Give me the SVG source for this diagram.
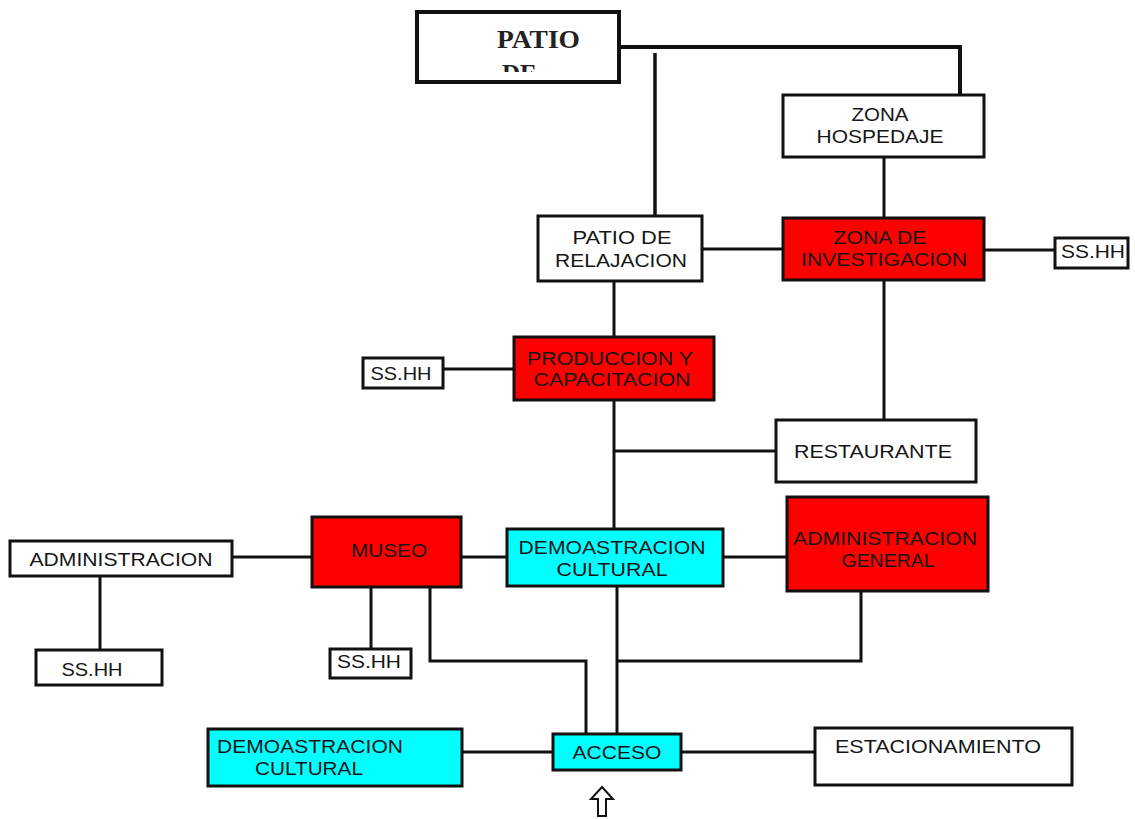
<svg xmlns="http://www.w3.org/2000/svg" width="1135" height="819" viewBox="0 0 1135 819">
<style>
.n{stroke:#111;stroke-width:3;fill:#fff}
.r{fill:#ff0000}
.c{fill:#00ffff}
.t{font-family:"Liberation Sans",Arial,sans-serif;font-size:18.5px;fill:#151515;text-anchor:middle}
.tl{text-anchor:start}
.e{fill:none;stroke:#111;stroke-width:3}
</style>
<defs>
<clipPath id="clipPatio"><rect x="417" y="12" width="202" height="60"/></clipPath>
</defs>
<rect width="1135" height="819" fill="#fff"/>
<g id="connectors">
<polyline class="e" style="stroke-width:4" points="619,47 960,47 960,95"/>
<line class="e" style="stroke-width:3.5" x1="655" y1="53" x2="655" y2="216"/>
<line class="e" x1="884" y1="157" x2="884" y2="218"/>
<line class="e" x1="702" y1="249" x2="783" y2="249"/>
<line class="e" x1="984" y1="250" x2="1055" y2="250"/>
<line class="e" x1="884" y1="280" x2="884" y2="420"/>
<line class="e" x1="614" y1="281" x2="614" y2="337"/>
<line class="e" x1="443" y1="369" x2="514" y2="369"/>
<line class="e" x1="614" y1="400" x2="614" y2="529"/>
<line class="e" x1="614" y1="451" x2="776" y2="451"/>
<line class="e" x1="232" y1="557" x2="312" y2="557"/>
<line class="e" x1="461" y1="557" x2="507" y2="557"/>
<line class="e" x1="723" y1="557" x2="787" y2="557"/>
<line class="e" x1="100" y1="576" x2="100" y2="650"/>
<line class="e" x1="371" y1="587" x2="371" y2="649"/>
<polyline class="e" points="430,587 430,661 586,661 586,734"/>
<line class="e" x1="617" y1="586" x2="617" y2="734"/>
<polyline class="e" points="617,661 861,661 861,591"/>
<line class="e" x1="462" y1="752" x2="553" y2="752"/>
<line class="e" x1="681" y1="752" x2="815" y2="752"/>
</g>
<g id="patio-de">
<rect class="n" style="stroke-width:4" x="417" y="12" width="202" height="70"/>
<g clip-path="url(#clipPatio)" style="font-family:'Liberation Serif','Times New Roman',serif;font-weight:bold;font-size:25px;fill:#222">
<text x="497" y="48" textLength="83" lengthAdjust="spacingAndGlyphs">PATIO</text>
<text x="502" y="82">DE</text>
</g>
</g>
<g id="zona-hospedaje">
<rect class="n" x="783" y="95" width="201" height="62"/>
<text class="t" x="880" y="121" textLength="57" lengthAdjust="spacingAndGlyphs">ZONA</text>
<text class="t" x="880" y="143" textLength="127" lengthAdjust="spacingAndGlyphs">HOSPEDAJE</text>
</g>
<g id="patio-relajacion">
<rect class="n" x="538" y="216" width="164" height="65"/>
<text class="t" x="622" y="244" textLength="99" lengthAdjust="spacingAndGlyphs">PATIO DE</text>
<text class="t" x="621" y="267" textLength="132" lengthAdjust="spacingAndGlyphs">RELAJACION</text>
</g>
<g id="zona-investigacion">
<rect class="n r" x="783" y="218" width="201" height="62"/>
<text class="t" x="880" y="244" textLength="93" lengthAdjust="spacingAndGlyphs">ZONA DE</text>
<text class="t" x="884" y="266" textLength="166" lengthAdjust="spacingAndGlyphs">INVESTIGACION</text>
</g>
<g id="sshh-1">
<rect class="n" x="1055" y="238" width="73" height="30"/>
<text class="t" x="1093" y="258" textLength="64" lengthAdjust="spacingAndGlyphs">SS.HH</text>
</g>
<g id="produccion">
<rect class="n r" x="514" y="337" width="200" height="63"/>
<text class="t" x="610" y="365" textLength="166" lengthAdjust="spacingAndGlyphs">PRODUCCION Y</text>
<text class="t" x="612" y="386" textLength="157" lengthAdjust="spacingAndGlyphs">CAPACITACION</text>
</g>
<g id="sshh-2">
<rect class="n" x="363" y="358" width="80" height="30"/>
<text class="t" x="401" y="380" textLength="61" lengthAdjust="spacingAndGlyphs">SS.HH</text>
</g>
<g id="restaurante">
<rect class="n" x="776" y="420" width="200" height="62"/>
<text class="t" x="873" y="458" textLength="158" lengthAdjust="spacingAndGlyphs">RESTAURANTE</text>
</g>
<g id="museo">
<rect class="n r" x="312" y="517" width="149" height="70"/>
<text class="t" x="389" y="557" textLength="76" lengthAdjust="spacingAndGlyphs">MUSEO</text>
</g>
<g id="demoastracion-1">
<rect class="n c" x="507" y="529" width="216" height="57"/>
<text class="t" x="612" y="554" textLength="187" lengthAdjust="spacingAndGlyphs">DEMOASTRACION</text>
<text class="t" x="612" y="576" textLength="111" lengthAdjust="spacingAndGlyphs">CULTURAL</text>
</g>
<g id="administracion-general">
<rect class="n r" x="787" y="497" width="201" height="94"/>
<text class="t" x="885" y="545" textLength="184" lengthAdjust="spacingAndGlyphs">ADMINISTRACION</text>
<text class="t" x="888" y="567" textLength="93" lengthAdjust="spacingAndGlyphs">GENERAL</text>
</g>
<g id="administracion">
<rect class="n" x="10" y="541" width="222" height="35"/>
<text class="t" x="121" y="566" textLength="183" lengthAdjust="spacingAndGlyphs">ADMINISTRACION</text>
</g>
<g id="sshh-3">
<rect class="n" x="36" y="650" width="126" height="35"/>
<text class="t" x="92" y="676" textLength="61" lengthAdjust="spacingAndGlyphs">SS.HH</text>
</g>
<g id="sshh-4">
<rect class="n" x="330" y="649" width="81" height="29"/>
<text class="t" x="369" y="668" textLength="64" lengthAdjust="spacingAndGlyphs">SS.HH</text>
</g>
<g id="acceso">
<rect class="n c" x="553" y="734" width="128" height="36"/>
<text class="t" x="617" y="759" textLength="89" lengthAdjust="spacingAndGlyphs">ACCESO</text>
</g>
<g id="demoastracion-2">
<rect class="n c" x="208" y="729" width="254" height="57"/>
<text class="t tl" x="217" y="753" textLength="186" lengthAdjust="spacingAndGlyphs">DEMOASTRACION</text>
<text class="t tl" x="255" y="775" textLength="108" lengthAdjust="spacingAndGlyphs">CULTURAL</text>
</g>
<g id="estacionamiento">
<rect class="n" x="815" y="728" width="257" height="57"/>
<text class="t tl" x="835" y="753" textLength="206" lengthAdjust="spacingAndGlyphs">ESTACIONAMIENTO</text>
</g>
<g id="entry-arrow">
<path d="M602,787 L613,799 L606,799 L606,816 L598,816 L598,799 L591,799 Z" fill="#fff" stroke="#111" stroke-width="2" stroke-linejoin="miter"/>
</g>
</svg>
